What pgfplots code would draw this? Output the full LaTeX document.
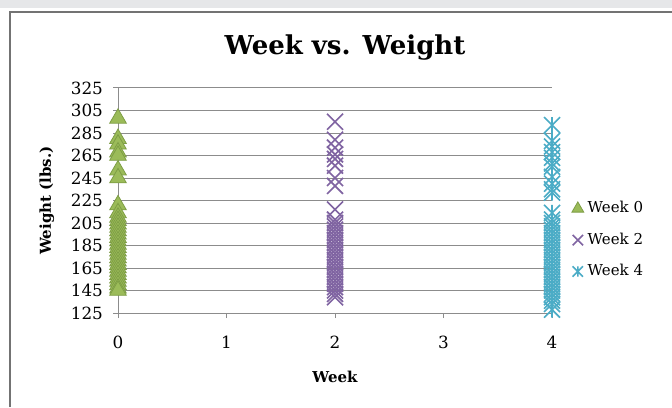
\documentclass[border=0pt]{standalone}
\usepackage{pgfplots}
\pgfplotsset{compat=1.18}
\usepackage{fontspec}
\setmainfont{DejaVu Serif}
\definecolor{wgreen}{HTML}{9BBB59}
\definecolor{wgreenD}{HTML}{7E9E45}
\definecolor{wpurple}{HTML}{8064A2}
\definecolor{wcyan}{HTML}{4BACC6}
\definecolor{band}{HTML}{E6E7E9}
\pgfdeclareplotmark{xstar}{%
  \pgfpathmoveto{\pgfqpoint{-\pgfplotmarksize}{-\pgfplotmarksize}}%
  \pgfpathlineto{\pgfqpoint{\pgfplotmarksize}{\pgfplotmarksize}}%
  \pgfpathmoveto{\pgfqpoint{-\pgfplotmarksize}{\pgfplotmarksize}}%
  \pgfpathlineto{\pgfqpoint{\pgfplotmarksize}{-\pgfplotmarksize}}%
  \pgfpathmoveto{\pgfqpoint{0pt}{-\pgfplotmarksize}}%
  \pgfpathlineto{\pgfqpoint{0pt}{\pgfplotmarksize}}%
  \pgfusepathqstroke}
\pgfdeclareplotmark{xcross}{%
  \pgfpathmoveto{\pgfqpoint{-\pgfplotmarksize}{-\pgfplotmarksize}}%
  \pgfpathlineto{\pgfqpoint{\pgfplotmarksize}{\pgfplotmarksize}}%
  \pgfpathmoveto{\pgfqpoint{-\pgfplotmarksize}{\pgfplotmarksize}}%
  \pgfpathlineto{\pgfqpoint{\pgfplotmarksize}{-\pgfplotmarksize}}%
  \pgfusepathqstroke}
\begin{document}
\begin{tikzpicture}
\useasboundingbox (0pt,0pt) rectangle (336pt,203.5pt);
\fill[white] (0pt,0pt) rectangle (336pt,203.5pt);
\fill[band] (0pt,199.5pt) rectangle (336pt,203.5pt);
\draw[black!55, line width=0.8pt] (5pt,0pt) -- (5pt,197.5pt) -- (336pt,197.5pt);
\node[font=\fontsize{13}{15}\selectfont\bfseries] at (172.5pt,179.5pt) {Week vs. Weight};
\begin{axis}[
  at={(59pt,47pt)}, anchor=south west,
  scale only axis, width=217pt, height=112.5pt,
  xmin=0, xmax=4, ymin=125, ymax=325,
  xtick={0,1,2,3,4}, ytick={125,145,...,325},
  axis x line=bottom, axis y line=left,
  axis line style={-, black!45, line width=0.5pt},
  ymajorgrids, grid style={black!45, line width=0.5pt},
  tick align=outside, major tick length=2.5pt,
  tick style={black!45, line width=0.5pt},
  /pgf/number format/assume math mode=true,
  ticklabel style={font=\fontsize{8.4}{10}\selectfont},
  xticklabel style={yshift=-5.5pt},
  yticklabel style={xshift=-1.5pt},
  xlabel={Week}, ylabel={Weight (lbs.)},
  label style={font=\fontsize{7.5}{9}\selectfont\bfseries},
  xlabel style={at={(axis description cs:0.5,-0.284)}, anchor=center},
  ylabel style={at={(axis description cs:-0.164,0.5)}, anchor=center},
  clip=false,
  legend style={draw=none, fill=none, at={(1.045,0.324)}, anchor=west,
    font=\fontsize{7.5}{9}\selectfont, row sep=4.5pt, inner sep=0pt},
  legend cell align=left,
]
\addplot[only marks, mark=triangle*, mark size=4.8pt, mark options={fill=wgreen, draw=wgreenD, line width=0.4pt},
  legend image post style={mark size=3.4pt}]
  coordinates {(0,298)(0,280)(0,275)(0,268)(0,265)(0,252)(0,245)(0,221)(0,214)(0,210)(0,207)(0,204)(0,201)(0,198)(0,195)(0,192)(0,189)(0,186)(0,183)(0,180)(0,177)(0,174)(0,171)(0,168)(0,165)(0,162)(0,159)(0,156)(0,153)(0,150)(0,147)(0,145)};
\addlegendentry{Week 0}
\addplot[only marks, mark=xcross, mark size=4pt, mark options={draw=wpurple, line width=0.8pt},
  legend image post style={mark size=2.6pt, line width=0.5pt}]
  coordinates {(2,295)(2,279)(2,272)(2,266)(2,262)(2,256)(2,245)(2,238)(2,217)(2,208)(2,205)(2,202)(2,199)(2,196)(2,193)(2,190)(2,187)(2,184)(2,181)(2,178)(2,175)(2,172)(2,169)(2,166)(2,163)(2,160)(2,157)(2,154)(2,151)(2,148)(2,145)(2,142)(2,139)};
\addlegendentry{Week 2}
\addplot[only marks, mark=xstar, mark size=4pt, mark options={draw=wcyan, line width=0.8pt},
  legend image post style={mark size=2.6pt, line width=0.5pt}]
  coordinates {(4,292)(4,278)(4,273)(4,268)(4,263)(4,258)(4,255)(4,246)(4,240)(4,235)(4,232)(4,214)(4,208)(4,205)(4,202)(4,199)(4,196)(4,193)(4,190)(4,187)(4,184)(4,181)(4,178)(4,175)(4,172)(4,169)(4,166)(4,163)(4,160)(4,157)(4,154)(4,151)(4,148)(4,145)(4,142)(4,139)(4,136)(4,133)(4,128)};
\addlegendentry{Week 4}
\end{axis}
\end{tikzpicture}
\end{document}
